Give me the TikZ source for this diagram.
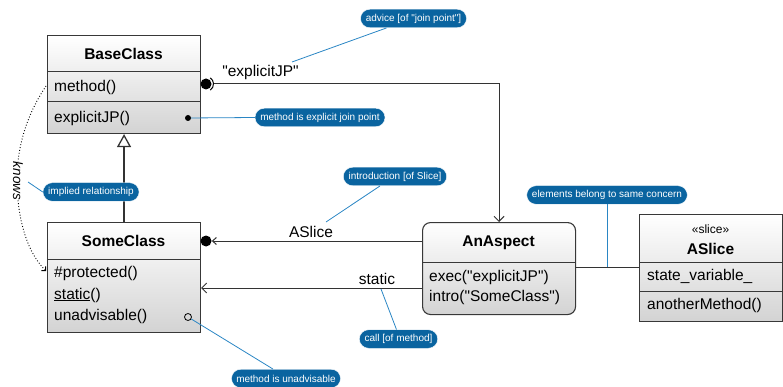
\documentclass[tikz,border=0pt]{standalone}
\usepackage{fontspec}
\setmainfont{Liberation Sans}
\usetikzlibrary{arrows.meta,calc,shapes.misc}
\definecolor{notebg}{HTML}{0A64A0}
\definecolor{noteline}{HTML}{2A86C4}
\definecolor{boxline}{HTML}{383838}
\definecolor{boxbot}{HTML}{D3D3D3}
\definecolor{connc}{HTML}{333333}
\newcommand{\dq}{\textquotedbl}
\tikzset{
  cls/.style={draw=boxline, line width=1.1pt, top color=white, bottom color=boxbot, anchor=north west, inner sep=0pt},
  sep/.style={draw=boxline, line width=1pt},
  row/.style={anchor=west, inner sep=0pt, font=\fontsize{15.5}{18}\selectfont},
  ttl/.style={inner sep=0pt, font=\fontsize{15.5}{18}\selectfont\bfseries},
  lbl/.style={inner sep=0pt, font=\fontsize{15.5}{18}\selectfont},
  note/.style={rounded rectangle, fill=notebg, text=white, draw=white, line width=0.4pt, font=\fontsize{10}{12}\selectfont, inner xsep=4pt, inner ysep=0pt, minimum height=18.5pt},
  noteln/.style={draw=noteline, line width=0.8pt},
  conn/.style={draw=connc, line width=1pt},
  barb/.style={-{Straight Barb[length=5pt,width=10pt,line width=1pt]}},
  dotmark/.style={circle, fill=black, inner sep=0pt, minimum size=#1},
}
\begin{document}
\begin{tikzpicture}[x=1pt,y=-1pt]
\useasboundingbox (0,0) rectangle (783,387);

% ---------- BaseClass ----------
\node[cls, minimum width=153pt, minimum height=98pt] (base) at (47,35) {};
\draw[sep] (47,72) -- (200,72);
\draw[sep] (47,102) -- (200,102);
\node[ttl] (baset) at (123.5,54) {BaseClass};
\node[row] (bm1) at (54,87) {method()};
\node[row] (bm2) at (54,118) {explicitJP()};
\node[dotmark=6pt] (jpdot) at (188,118) {};

% ---------- SomeClass ----------
\node[cls, minimum width=153pt, minimum height=110pt] (some) at (47,222) {};
\draw[sep] (47,259) -- (200,259);
\node[ttl] (somet) at (123.5,241) {SomeClass};
\node[row] (sm1) at (54,273) {\#protected()};
\node[row] (sm2) at (54,295) {\underline{static}()};
\node[row] (sm3) at (54,316) {unadvisable()};
\node[circle, draw=black, line width=0.8pt, inner sep=0pt, minimum size=7pt] (unadv) at (188,317) {};

% ---------- AnAspect ----------
\node[cls, rounded corners=8pt, minimum width=153pt, minimum height=92pt] (asp) at (422,222) {};
\draw[sep] (422,262) -- (575,262);
\node[ttl] (aspt) at (498.5,243) {AnAspect};
\node[row] (am1) at (429,277) {exec(\dq explicitJP\dq)};
\node[row] (am2) at (429,297) {intro(\dq SomeClass\dq)};

% ---------- ASlice ----------
\node[cls, minimum width=143pt, minimum height=107pt] (sl) at (639,214) {};
\draw[sep] (639,262) -- (782,262);
\draw[sep] (639,291) -- (782,291);
\node[inner sep=0pt, font=\fontsize{12}{14}\selectfont] (slst) at (710.5,229) {«slice»};
\node[ttl] (slt) at (710.5,249) {ASlice};
\node[row] (slm1) at (647,276) {state\_variable\_};
\node[row] (slm2) at (647,305) {anotherMethod()};

% ---------- generalization ----------
\draw[conn, line width=1.3pt, -{Triangle[open, length=13pt, width=14pt, line width=1.3pt, fill=white]}] (some.north) -- (base.south);

% ---------- explicitJP socket connector ----------
\node[dotmark=11pt] (sock) at (206,84) {};
\draw[line width=1pt] ($(sock)+(55:7.5)$) arc[start angle=55, end angle=-55, radius=7.5];
\coordinate (sockout) at (214,84);
\draw[conn, barb] (sockout) -| (asp.north);
\node[lbl] (jplbl) at (260.5,72) {\dq explicitJP\dq};

% ---------- ASlice introduction connector ----------
\node[dotmark=11pt] (introdot) at (206,241) {};
\coordinate (introstart) at (422,241);
\draw[conn, -{Straight Barb[length=4pt,width=7pt,line width=1pt]}] (introstart) -- (introdot.east);
\node[lbl] (slicelbl) at (311,232) {ASlice};

% ---------- static call connector ----------
\coordinate (callstart) at (422,288);
\coordinate (callend) at (201,288);
\draw[conn, barb] (callstart) -- (callend);
\node[lbl] (staticlbl) at (377,279) {static};

% ---------- same concern connector ----------
\coordinate (aspR) at (575,267);
\coordinate (slL) at (639,267);
\draw[conn] (aspR) -- (slL);

% ---------- knows dotted arc ----------
\coordinate (kstart) at (46,86);
\coordinate (kend) at (46,271);
\node[inner sep=0pt, rotate=-90, font=\fontsize{13.5}{16}\selectfont\itshape] (knows) at (18,181) {knows};
\draw[line width=0.9pt, dotted] (kstart) .. controls (30,110) and (21,135) .. (knows.west);
\draw[line width=0.9pt, dotted, -{Straight Barb[length=3pt,width=6pt,line width=0.9pt]}] (knows.east) .. controls (21,230) and (30,255) .. (kend);

% ---------- notes ----------
\node[note] (n1) at (413.5,18.5) {advice [of \dq join point\dq]};
\node[note] (n2) at (320,117.5) {method is explicit join point};
\node[note] (n3) at (91,192) {implied relationship};
\node[note] (n4) at (395,176.5) {introduction [of Slice]};
\node[note] (n5) at (398.5,339) {call [of method]};
\node[note] (n6) at (286,378.5) {method is unadvisable};
\node[note] (n7) at (607,195) {elements belong to same concern};

\coordinate (a1) at (292,62);
\draw[noteln] (a1) -- ($(n1.south)+(-27,0)$);
\draw[noteln] (jpdot) -- (n2.west);
\coordinate (a3) at (28,182);
\draw[noteln] (a3) -- (n3.west);
\coordinate (a4) at (326,222);
\draw[noteln] (a4) -- ($(n4.south)+(-15,0)$);
\coordinate (a5) at (381,289);
\draw[noteln] (a5) -- ($(n5.north)+(-2,0)$);
\draw[noteln] (unadv) -- ($(n6.north)+(-13,0)$);
\coordinate (a7) at (607,267);
\draw[noteln] (n7.south) -- (a7);
\end{tikzpicture}
\end{document}
